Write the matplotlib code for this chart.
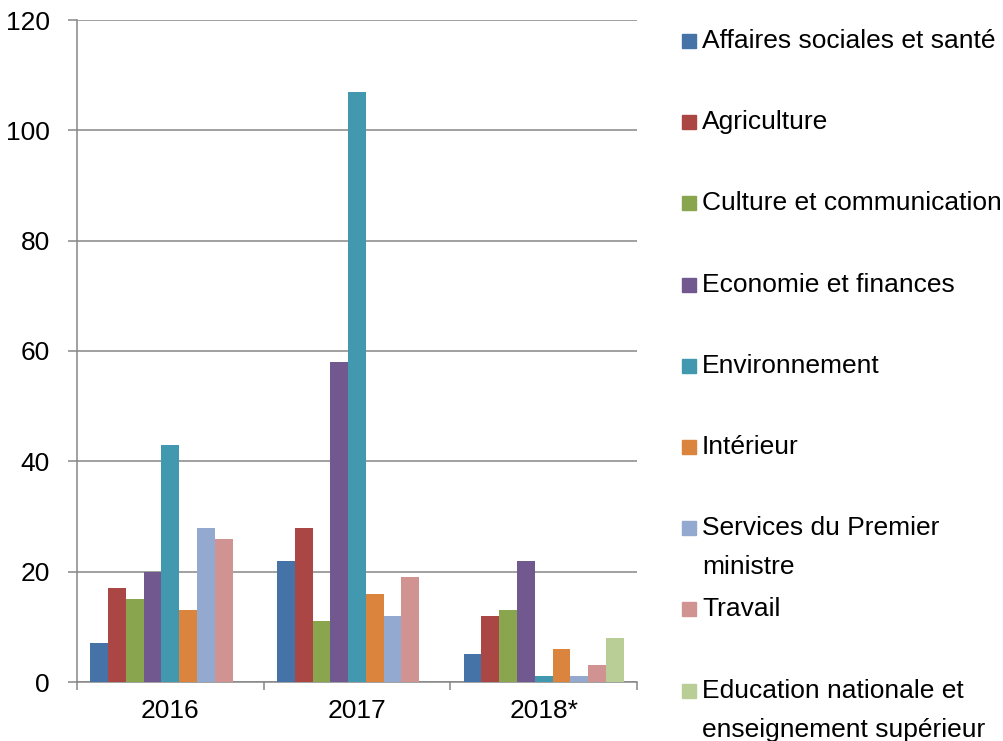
import matplotlib.pyplot as plt
import numpy as np
from matplotlib.patches import Rectangle

plt.rcParams['font.family'] = ['Liberation Sans', 'DejaVu Sans']

#---------------------------------------
# data
years = ['2016', '2017', '2018*']
ministeres = ['Affaires sociales et santé', 'Agriculture', 'Culture et communication',
              'Economie et finances', 'Environnement', 'Intérieur',
              'Services du Premier\nministre', 'Travail',
              'Education nationale et\nenseignement supérieur']
val_2016 = [7, 17, 15, 20, 43, 13, 28, 26, 0]
val_2017 = [22, 28, 11, 58, 107, 16, 12, 19, 0]
val_2018 = [5, 12, 13, 22, 1, 6, 1, 3, 8]
colors = ['#4572A7', '#AA4643', '#89A54E', '#71588F', '#4198AF',
          '#DB843D', '#93A9CF', '#D19392', '#B9CD96']
#---------------------------------------

W, H = 1004, 741
fig = plt.figure(figsize=(W/100, H/100), dpi=100)
ax = fig.add_axes([77/W, (H-682)/H, (637-77)/W, (682-20)/H])

data = np.array([val_2016, val_2017, val_2018])
x = np.arange(len(years))
n = len(ministeres)
w = 1/(n+1.5)
for i in range(n):
    ax.bar(x+(i-(n-1)/2)*w, data[:, i], w, color=colors[i], linewidth=0, zorder=3)

grid_c = '#868686'
ax.set_ylim(0, 120)
ax.set_yticks(np.arange(0, 121, 20))
ax.yaxis.grid(True, color=grid_c, linewidth=1.1, zorder=0)
ax.set_xlim(-0.5, 2.5)
ax.set_xticks([-0.5, 0.5, 1.5, 2.5])
ax.set_xticklabels([])
ax.set_xticks(x, minor=True)
ax.set_xticklabels(years, minor=True)
ax.tick_params(axis='x', which='major', length=6, width=1.1, color=grid_c)
ax.tick_params(axis='x', which='minor', length=0, pad=12, labelsize=19)
ax.tick_params(axis='y', length=6.5, width=1.1, color=grid_c, pad=13, labelsize=19)
for s in ['top', 'right']:
    ax.spines[s].set_visible(False)
for s in ['left', 'bottom']:
    ax.spines[s].set_color(grid_c)
    ax.spines[s].set_linewidth(1.1)

# legend drawn by hand (Excel-like spacing)
for i, lab in enumerate(ministeres):
    yc = 41 + 81.2*i
    fig.patches.append(Rectangle((682/W, 1-(yc+7)/H), 14/W, 14/H,
                                 transform=fig.transFigure, color=colors[i]))
    for k, line in enumerate(lab.split('\n')):
        fig.text(702/W, 1-(yc+39*k)/H, line, fontsize=19, va='center', ha='left')

plt.savefig('out.png', dpi=100)
